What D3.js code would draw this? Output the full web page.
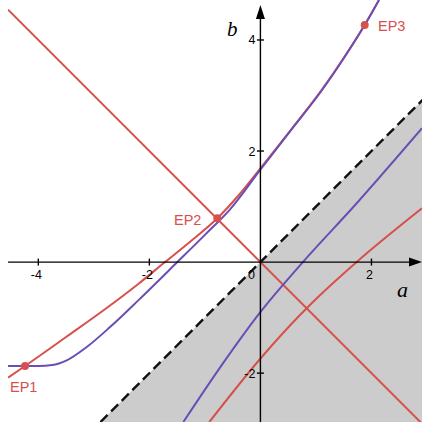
<!DOCTYPE html>
<html>
<head>
<meta charset="utf-8">
<script src="https://cdn.jsdelivr.net/npm/d3@7"></script>
<style>
  body { margin: 0; background: #fff; }
  svg { display: block; }
</style>
</head>
<body>
<svg id="chart" width="422" height="422"></svg>
<script>
// values, (a, b) pairs
var redUpper = [[-4.545, -2.08], [-4.239, -1.871], [-3.5, -1.35], [-2.8, -0.85], [-2.2, -0.394],
                [-1.718, 0.0], [-1.25, 0.38], [-0.776, 0.789], [-0.4, 1.195], [0.0, 1.689],
                [0.55, 2.383], [1.104, 3.1], [1.5, 3.674], [1.878, 4.269], [2.136, 4.72]];
var redLower = [[-0.92, -2.88], [0.005, -1.732], [0.713, -0.953], [0.983, -0.683], [1.734, 0.002], [2.91, 0.969]];
var purpleUpper = [[-4.545, -1.871], [-4.0, -1.871], [-3.75, -1.855], [-3.488, -1.77], [-3.128, -1.53],
                   [-2.708, -1.17], [-2.2, -0.69], [-1.496, 0.0], [-1.0, 0.49], [-0.547, 0.95],
                   [0.0, 1.665], [0.55, 2.375], [1.104, 3.09], [1.5, 3.67], [1.878, 4.269], [2.136, 4.72]];
var purpleLower = [[-1.388, -2.88], [-0.7, -1.86], [0.005, -0.893], [0.745, -0.022],
                   [1.734, 1.059], [2.91, 2.41]];
var antiDiag = [[-4.545, 4.545], [2.95, -2.95]];   // b = -a
var diag = [[-2.88, -2.88], [3.2, 3.2]];           // b = a, dashed
var eqPoints = [[-4.239, -1.871], [-0.776, 0.789], [1.878, 4.269]];
var eqLabels = ["EP1", "EP2", "EP3"];
var xTicks = [-4, -2, 0, 2];
var yTicks = [-2, 2, 4];

var red = "#d6504c", purple = "#6a4eb6";
var W = 422, H = 422;
var svg = d3.select("#chart");

var x = d3.scaleLinear().domain([-4.69, 2.91]).range([0, W]);
var y = d3.scaleLinear().domain([-2.88, 4.72]).range([H, 0]);

svg.append("clipPath").attr("id", "plot")
    .append("rect").attr("x", x(-4.545)).attr("y", 0).attr("width", W).attr("height", H);
var g = svg.append("g").attr("clip-path", "url(#plot)");

// shaded region b < a
var area = d3.area()
    .x(function (d) { return x(d[0]); })
    .y0(y(-2.88))
    .y1(function (d) { return y(d[1]); });
g.append("path").datum(diag).attr("d", area).attr("fill", "#cccccc");

var line = d3.line()
    .x(function (d) { return x(d[0]); })
    .y(function (d) { return y(d[1]); });
var curve = d3.line()
    .x(function (d) { return x(d[0]); })
    .y(function (d) { return y(d[1]); })
    .curve(d3.curveMonotoneX);

g.append("path").datum(diag).attr("d", line)
    .attr("fill", "none").attr("stroke", "#111").attr("stroke-width", 2.4)
    .attr("stroke-dasharray", "10,5");

// axes
var axes = svg.append("g").attr("stroke", "#000").attr("stroke-width", 1.4);
axes.append("line").attr("x1", x(-4.545)).attr("x2", W - 10).attr("y1", y(0)).attr("y2", y(0));
axes.append("line").attr("x1", x(0)).attr("x2", x(0)).attr("y1", H).attr("y2", 18);
svg.append("path")
    .attr("d", "M" + W + "," + y(0) + " l-13,-4.5 l0,9 z").attr("fill", "#000");
svg.append("path")
    .attr("d", "M" + x(0) + ",5 l-4.5,14 l9,0 z").attr("fill", "#000");

axes.selectAll(".xt").data(xTicks.filter(function (d) { return d !== 0; })).enter()
    .append("line").attr("x1", function (d) { return x(d); }).attr("x2", function (d) { return x(d); })
    .attr("y1", y(0) - 3.5).attr("y2", y(0) + 3.5);
axes.selectAll(".yt").data(yTicks).enter()
    .append("line").attr("y1", function (d) { return y(d); }).attr("y2", function (d) { return y(d); })
    .attr("x1", x(0) - 3.5).attr("x2", x(0) + 3.5);

svg.selectAll(".xl").data(xTicks).enter().append("text")
    .attr("x", function (d) { return d === 0 ? x(0) - 9 : x(d) - 2; })
    .attr("y", y(0) + 17)
    .attr("text-anchor", "middle")
    .attr("font-family", "Liberation Sans, Arial, sans-serif").attr("font-size", 12.5)
    .text(function (d) { return d; });
svg.selectAll(".yl").data(yTicks).enter().append("text")
    .attr("x", x(0) - 5).attr("y", function (d) { return y(d) + 4.5; })
    .attr("text-anchor", "end")
    .attr("font-family", "Liberation Sans, Arial, sans-serif").attr("font-size", 12.5)
    .text(function (d) { return d; });

svg.append("text").attr("x", 227).attr("y", 36).text("b")
    .attr("font-family", "Liberation Serif, serif").attr("font-style", "italic").attr("font-size", 21);
svg.append("text").attr("x", 397).attr("y", 297).text("a")
    .attr("font-family", "Liberation Serif, serif").attr("font-style", "italic").attr("font-size", 22);

// curves
g.append("path").datum(antiDiag).attr("d", line)
    .attr("fill", "none").attr("stroke", red).attr("stroke-width", 2);
[redUpper, redLower].forEach(function (s) {
    g.append("path").datum(s).attr("d", curve)
        .attr("fill", "none").attr("stroke", red).attr("stroke-width", 2);
});
[purpleUpper, purpleLower].forEach(function (s) {
    g.append("path").datum(s).attr("d", curve)
        .attr("fill", "none").attr("stroke", purple).attr("stroke-width", 2);
});

g.selectAll(".ep").data(eqPoints).enter().append("circle")
    .attr("cx", function (d) { return x(d[0]); })
    .attr("cy", function (d) { return y(d[1]); })
    .attr("r", 4).attr("fill", red);

var labelPos = [[10, 392], [174, 225], [378, 31]];
svg.selectAll(".epl").data(eqLabels).enter().append("text")
    .attr("x", function (d, i) { return labelPos[i][0]; })
    .attr("y", function (d, i) { return labelPos[i][1]; })
    .attr("fill", red)
    .attr("font-family", "Liberation Sans, Arial, sans-serif").attr("font-size", 14.5)
    .text(function (d) { return d; });
</script>
</body>
</html>
